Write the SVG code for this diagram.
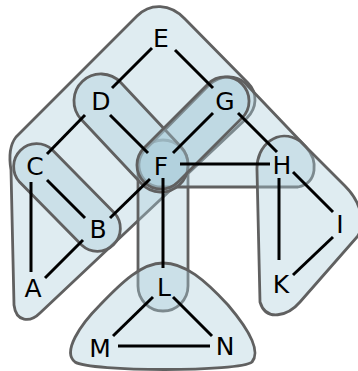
<svg xmlns="http://www.w3.org/2000/svg" width="358" height="371" viewBox="0 0 358 371">
<style>
.he{fill:rgb(170,205,218);fill-opacity:0.38;stroke:#606060;stroke-width:2.8;stroke-linejoin:round}
.ed{stroke:#000;stroke-width:3;fill:none}
.lb{font-family:"DejaVu Sans",sans-serif;font-size:25px;fill:#000;text-anchor:middle}
</style>
<g id="hyperedges">
<path id="h-big" class="he" d="M137,16 C150,3 170,3 185,19 L248,83 C258,93 257,108 247,118 L40,313 C30,323 16,322 14,305 L11,170 C9,158 9,146 16,137 Z"/>
<path id="h-FL" class="he" d="M138,165 A25,25 0 0 1 188,165 L188,286 A25,25 0 0 1 138,286 Z"/>
<path id="h-FGH" class="he" d="M145.4,149.4 L209,85 C220,75 235,74 245,83 L306,147 C318,160 318,183 298,187 L161,187 A22,22 0 0 1 145.4,149.4 Z"/>
<path id="h-DF" class="he" d="M120.7,82.5 L180.7,146.5 A27,27 0 0 1 141.3,183.5 L81.3,119.5 A27,27 0 0 1 120.7,82.5 Z"/>
<path id="h-GF" class="he" d="M208,84 A24,24 0 0 1 242,118 L178,182 A24,24 0 0 1 144,148 Z"/>
<path id="h-CB" class="he" d="M52.4,149.9 L114.4,212.9 A23,23 0 0 1 81.6,245.1 L19.6,182.1 A23,23 0 0 1 52.4,149.9 Z"/>
<path id="h-HIK" class="he" d="M257,170 C256,145 278,127 300,141 L345,186 C362,203 366,225 357,237 L300,302 C288,316 266,322 260,302 L257,170 Z"/>
<path id="h-LMN" class="he" d="M163,263 C185,263 205,280 228,305 C245,325 262,350 252,362 C240,372 90,372 75,362 C62,352 80,325 100,305 C122,282 142,263 163,263 Z"/>
</g>
<g id="connectors">
<line class="ed" x1="152" y1="48" x2="112" y2="88"/>
<line class="ed" x1="175" y1="50" x2="213" y2="88"/>
<line class="ed" x1="85" y1="115" x2="47" y2="154"/>
<line class="ed" x1="110" y1="115" x2="148" y2="153"/>
<line class="ed" x1="213" y1="113" x2="173" y2="153"/>
<line class="ed" x1="238" y1="113" x2="277" y2="152"/>
<line class="ed" x1="180" y1="164" x2="270" y2="164"/>
<line class="ed" x1="47" y1="180" x2="85" y2="218"/>
<line class="ed" x1="31" y1="182" x2="31" y2="272"/>
<line class="ed" x1="150" y1="179" x2="110" y2="218"/>
<line class="ed" x1="83" y1="240" x2="45" y2="278"/>
<line class="ed" x1="163" y1="178" x2="163" y2="268"/>
<line class="ed" x1="293" y1="172" x2="333" y2="212"/>
<line class="ed" x1="279" y1="178" x2="279" y2="260"/>
<line class="ed" x1="333" y1="237" x2="293" y2="275"/>
<line class="ed" x1="153" y1="297" x2="113" y2="336"/>
<line class="ed" x1="173" y1="297" x2="212" y2="336"/>
<line class="ed" x1="118" y1="346" x2="210" y2="346"/>
</g>
<g id="node-E"><text class="lb" x="161" y="47">E</text></g>
<g id="node-D"><text class="lb" x="101" y="110">D</text></g>
<g id="node-G"><text class="lb" x="225" y="110">G</text></g>
<g id="node-C"><text class="lb" x="35" y="175">C</text></g>
<g id="node-F"><text class="lb" x="161" y="175">F</text></g>
<g id="node-H"><text class="lb" x="282" y="174">H</text></g>
<g id="node-B"><text class="lb" x="98" y="238">B</text></g>
<g id="node-I"><text class="lb" x="340" y="233">I</text></g>
<g id="node-A"><text class="lb" x="33" y="297">A</text></g>
<g id="node-L"><text class="lb" x="164" y="296">L</text></g>
<g id="node-K"><text class="lb" x="281" y="293">K</text></g>
<g id="node-M"><text class="lb" x="100" y="357">M</text></g>
<g id="node-N"><text class="lb" x="225" y="355">N</text></g>
</svg>
